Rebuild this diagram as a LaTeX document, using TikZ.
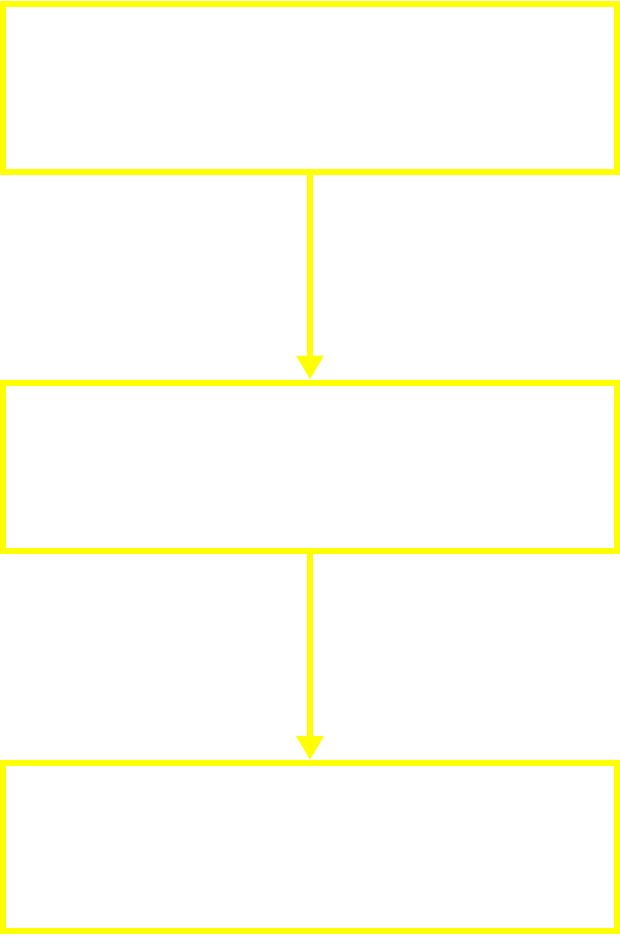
\documentclass[tikz,border=0pt]{standalone}
\usetikzlibrary{arrows.meta}
\definecolor{boxyellow}{RGB}{255,255,0}
\tikzset{
  stagebox/.style={draw=boxyellow, line width=6pt, rectangle, minimum width=614pt, minimum height=168pt, inner sep=0pt, fill=white},
  flowarrow/.style={draw=boxyellow, line width=6pt, -{Triangle[width=26pt,length=24pt]}}
}
\begin{document}
\begin{tikzpicture}[x=1pt,y=1pt]
\useasboundingbox[fill=white] (0,0) rectangle (620,-946);
\node[stagebox] (b1) at (310,-87.5) {};
\node[stagebox] (b2) at (310,-466.5) {};
\node[stagebox] (b3) at (310,-847) {};
\draw[flowarrow] (b1.south) -- (b2.north);
\draw[flowarrow] (b2.south) -- (b3.north);
\end{tikzpicture}
\end{document}
